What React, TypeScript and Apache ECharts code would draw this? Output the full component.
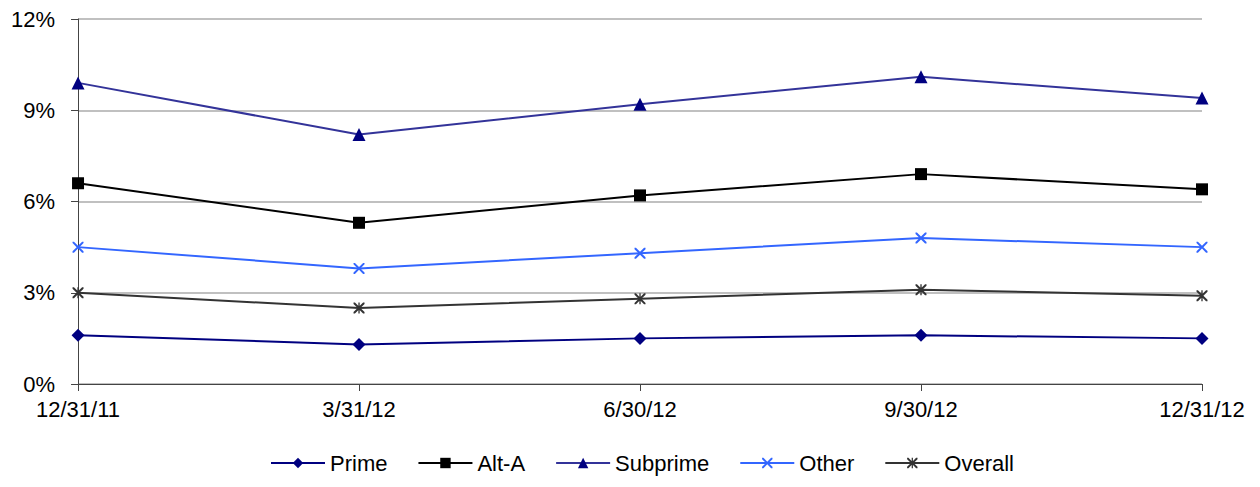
import React, { useEffect, useRef } from "react";
import * as echarts from "echarts";

const categories = ["12/31/11", "3/31/12", "6/30/12", "9/30/12", "12/31/12"];
const prime = [1.6, 1.3, 1.5, 1.6, 1.5];
const altA = [6.6, 5.3, 6.2, 6.9, 6.4];
const subprime = [9.9, 8.2, 9.2, 10.1, 9.4];
const other = [4.5, 3.8, 4.3, 4.8, 4.5];
const overall = [3.0, 2.5, 2.8, 3.1, 2.9];

const X_PATH =
  "path://M0,0 L1.3,0 L5,3.7 L8.7,0 L10,0 L10,1.3 L6.3,5 L10,8.7 L10,10 L8.7,10 L5,6.3 L1.3,10 L0,10 L0,8.7 L3.7,5 L0,1.3 Z";
const STAR_PATH =
  "path://M0,0 L1.3,0 L5,3.7 L8.7,0 L10,0 L10,1.3 L6.3,5 L10,8.7 L10,10 L8.7,10 L5,6.3 L1.3,10 L0,10 L0,8.7 L3.7,5 L0,1.3 Z M4.4,0 L5.6,0 L5.6,10 L4.4,10 Z";

export default function App() {
  const ref = useRef<HTMLDivElement>(null);
  useEffect(() => {
    if (!ref.current) return;
    const chart = echarts.init(ref.current, undefined, { renderer: "svg" });
    const font = "Arial";
    const mk = (
      name: string,
      data: number[],
      lineColor: string,
      markColor: string,
      symbol: string,
      size: number
    ) => ({
      name,
      type: "line",
      data,
      symbol,
      symbolSize: size,
      lineStyle: { color: lineColor, width: 2 },
      itemStyle: { color: markColor },
      emphasis: { disabled: true },
    });
    chart.setOption({
      animation: false,
      textStyle: { fontFamily: font, fontSize: 22 },
      grid: { left: 70, right: 50, top: 7, bottom: 95 },
      xAxis: {
        type: "category",
        data: categories,
        boundaryGap: false,
        axisLine: { lineStyle: { color: "#444", width: 1 } },
        axisTick: { show: true, length: 7, lineStyle: { color: "#444" } },
        axisLabel: { color: "#000", fontSize: 22, fontFamily: font, margin: 14 },
        splitLine: { show: false },
      },
      yAxis: {
        type: "value",
        min: 0,
        max: 12,
        interval: 3,
        axisLine: { show: true, lineStyle: { color: "#444", width: 1 } },
        axisTick: { show: true, length: 7, lineStyle: { color: "#444" } },
        axisLabel: {
          color: "#000",
          fontSize: 22,
          fontFamily: font,
          margin: 23,
          formatter: "{value}%",
        },
        splitLine: { show: true, lineStyle: { color: "#C0C0C0", width: 2 } },
      },
      legend: {
        top: 443,
        left: 262,
        padding: 0,
        itemWidth: 54,
        itemHeight: 13,
        itemGap: 30,
        textStyle: { fontSize: 22, fontFamily: font, color: "#000", lineHeight: 24 },
        data: ["Prime", "Alt-A", "Subprime", "Other", "Overall"],
      },
      series: [
        mk("Prime", prime, "#000080", "#000080", "diamond", 13),
        mk("Alt-A", altA, "#000000", "#000000", "rect", 12),
        mk("Subprime", subprime, "#333399", "#000080", "triangle", 13),
        mk("Other", other, "#3366FF", "#3366FF", X_PATH, 11),
        mk("Overall", overall, "#333333", "#333333", STAR_PATH, 11),
      ],
    });
    return () => chart.dispose();
  }, []);
  return <div ref={ref} style={{ width: 1244, height: 471 }} />;
}
